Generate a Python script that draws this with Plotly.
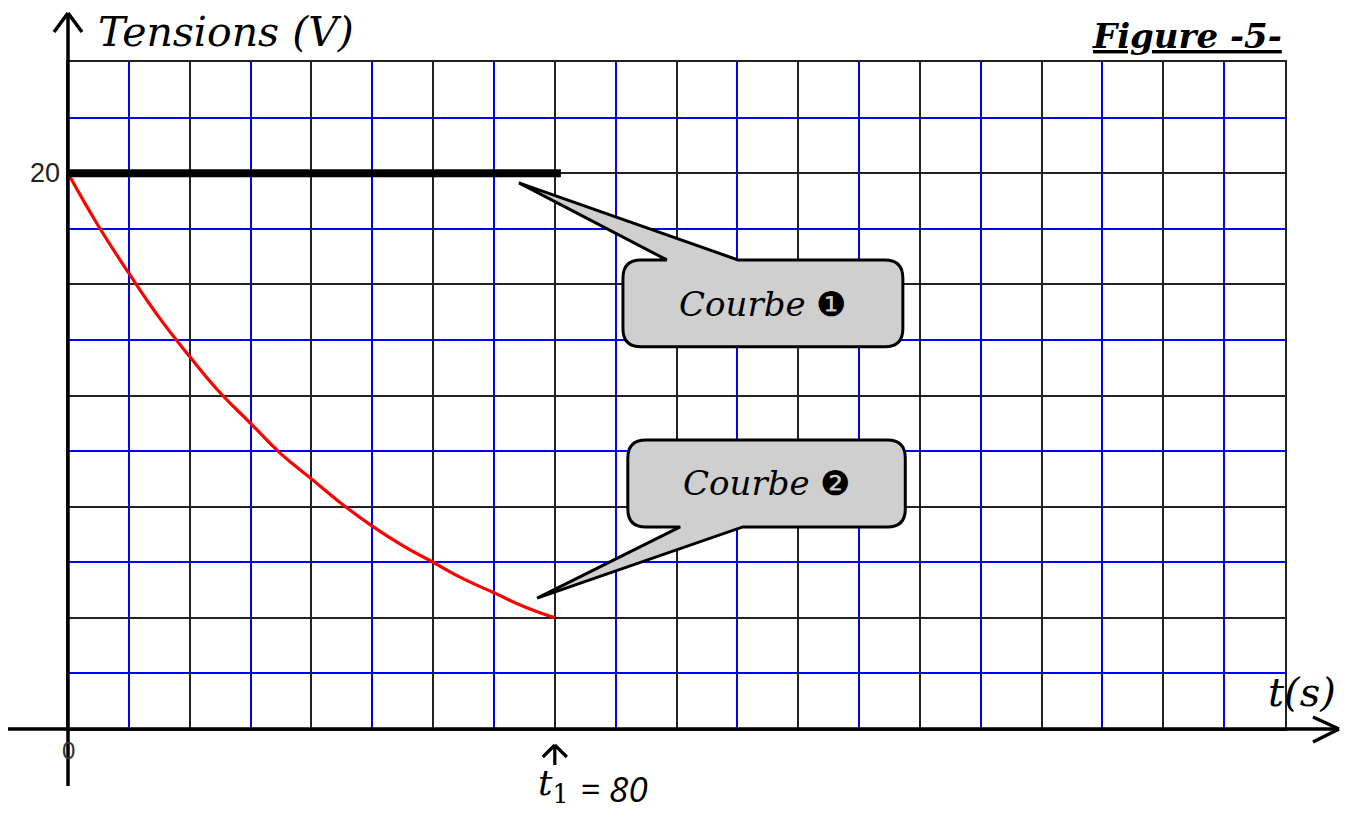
import plotly.graph_objects as go

# ---------------- data ----------------
t_curve2 = [0, 5, 10, 15, 20, 25, 30, 35, 40, 45, 50, 55, 60, 65, 70, 75, 80]
u_curve2 = [20.0, 18.1, 16.4, 14.8, 13.4, 12.1, 11.0, 9.9, 9.0, 8.1, 7.3, 6.6, 6.0, 5.4, 4.9, 4.4, 4.0]
t_curve1 = [0, 81]
u_curve1 = [20, 20]
t1_value = 80
x_range = [0, 200]
y_range = [0, 24]
y_label_value = 20

# ---------------- layout geometry ----------------
OFF = 8                      # page body margin
W, H = 1338, 805
ML, MT = 68 - OFF, 62 - OFF
MR = W - (1285 - OFF)
MB = H - (729 - OFF)
PW, PH = W - ML - MR, H - MT - MB


def P(px, py):
    """page pixel -> paper coordinates"""
    return (px - OFF - ML) / PW, (H - MB - (py - OFF)) / PH


fig = go.Figure()

fig.add_trace(go.Scatter(x=t_curve2, y=u_curve2, mode="lines",
                         line=dict(color="#ff0000", width=3.2, shape="spline", smoothing=1.3),
                         hoverinfo="skip", showlegend=False))
fig.add_trace(go.Scatter(x=t_curve1, y=u_curve1, mode="lines",
                         line=dict(color="#000000", width=8),
                         hoverinfo="skip", showlegend=False))

shapes = []


def pline(p0, p1, w=3.5, color="black"):
    x0, y0 = P(*p0)
    x1, y1 = P(*p1)
    shapes.append(dict(type="line", xref="paper", yref="paper", x0=x0, y0=y0, x1=x1, y1=y1,
                       line=dict(color=color, width=w), layer="above"))


# y axis + chevron
pline((68, 14), (68, 786))
pline((54, 32), (68, 13))
pline((82, 32), (68, 13))
# x axis + chevron
pline((6, 729), (1338, 729))
pline((1313, 717), (1339, 729))
pline((1313, 742), (1339, 729))

# t1 arrow
xt1 = 68 + (1285 - 68) * (t1_value - x_range[0]) / (x_range[1] - x_range[0])
pline((xt1, 765), (xt1, 746), w=3.2)
pline((xt1 - 12, 757), (xt1, 745), w=3.2)
pline((xt1 + 12, 757), (xt1, 745), w=3.2)

# callouts (data coordinates)
sx = PW / (x_range[1] - x_range[0])
sy = PH / (y_range[1] - y_range[0])
rx, ry = 18 / sx, 18 / sy


def callout(x0, x1, y0, y1, side, b0, b1, tip):
    tx, ty = tip
    if side == "top":
        d = (f"M {x0+rx},{y1} L {b0},{y1} L {tx},{ty} L {b1},{y1} L {x1-rx},{y1} "
             f"Q {x1},{y1} {x1},{y1-ry} L {x1},{y0+ry} Q {x1},{y0} {x1-rx},{y0} "
             f"L {x0+rx},{y0} Q {x0},{y0} {x0},{y0+ry} L {x0},{y1-ry} Q {x0},{y1} {x0+rx},{y1} Z")
    else:
        d = (f"M {x0+rx},{y1} L {x1-rx},{y1} Q {x1},{y1} {x1},{y1-ry} L {x1},{y0+ry} "
             f"Q {x1},{y0} {x1-rx},{y0} L {b1},{y0} L {tx},{ty} L {b0},{y0} "
             f"L {x0+rx},{y0} Q {x0},{y0} {x0},{y0+ry} L {x0},{y1-ry} Q {x0},{y1} {x0+rx},{y1} Z")
    shapes.append(dict(type="path", xref="x", yref="y", path=d,
                       fillcolor="#cfcfcf", line=dict(color="black", width=3), layer="above"))


callout(91.2, 137.2, 13.75, 16.88, "top", 98.4, 110.1, (74.1, 19.65))
callout(92.0, 137.6, 7.27, 10.4, "bottom", 100.6, 110.9, (77.1, 4.71))

annotations = []


def ann(text, x, y, size, xref="paper", yref="paper", xanchor="center", yanchor="middle",
        family="DejaVu Serif", color="black", xshift=0, yshift=0):
    annotations.append(dict(text=text, x=x, y=y, xref=xref, yref=yref, showarrow=False,
                            xanchor=xanchor, yanchor=yanchor, xshift=xshift, yshift=yshift,
                            font=dict(family=family, size=size, color=color)))


px, py = P(96, 32)
ann("<i>Tensions (V)</i>", px, py, 41, xanchor="left")
px, py = P(1284, 36)
ann("<b><i><u>Figure -5-</u></i></b>", px, py, 34, xanchor="right")
px, py = P(1266, 692)
ann("<i>t(s)</i>", px, py, 40, xanchor="left")
ann(str(y_label_value), 0, y_label_value, 27, xref="x", yref="y", xanchor="right",
    family="Liberation Sans", color="#222", xshift=-6)
px, py = P(68, 750)
ann("0", px, py, 24, family="Liberation Sans", color="#333")
px, py = P(536, 785)
ann("<i>t</i><sub>1</sub>", px, py, 36, xanchor="left", family="DejaVu Serif")
px, py = P(578, 788)
ann(f"<i>= {t1_value}</i>", px, py, 35, xanchor="left", family="Open Sans")
ann("<i>Courbe</i> ❶", 114.2, 15.3, 34, xref="x", yref="y")
ann("<i>Courbe</i> ❷", 114.8, 8.85, 34, xref="x", yref="y")

fig.update_layout(
    width=W, height=H,
    margin=dict(l=ML, r=MR, t=MT, b=MB, pad=0),
    paper_bgcolor="white", plot_bgcolor="white",
    shapes=shapes, annotations=annotations,
    xaxis=dict(range=x_range, dtick=20, tick0=0, showgrid=True, gridcolor="#222222", gridwidth=1.9,
               minor=dict(dtick=10, tick0=0, showgrid=True, gridcolor="#0000ff", gridwidth=1.8),
               showticklabels=False, ticks="", zeroline=False,
               showline=True, mirror=True, linecolor="#222222", linewidth=1.9, fixedrange=True),
    yaxis=dict(range=y_range, dtick=4, tick0=0, showgrid=True, gridcolor="#222222", gridwidth=1.9,
               minor=dict(dtick=2, tick0=0, showgrid=True, gridcolor="#0000ff", gridwidth=1.8),
               showticklabels=False, ticks="", zeroline=False,
               showline=True, mirror=True, linecolor="#222222", linewidth=1.9, fixedrange=True),
)

fig.write_html("out.html")
